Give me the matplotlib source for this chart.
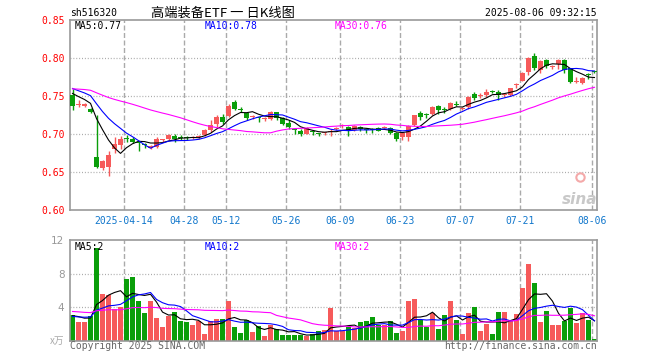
import numpy as np
import pandas as pd
import matplotlib
matplotlib.use("Agg")
import matplotlib.pyplot as plt

# ---- data (2025-03-31 .. 2025-08-06, 88 sessions) ----
opens = [0.751, 0.738, 0.737, 0.733, 0.670, 0.655, 0.656, 0.680, 0.6855, 0.695,
         0.6934, 0.689, 0.686, 0.681, 0.6825, 0.6915, 0.6934, 0.6974, 0.6958, 0.6953,
         0.6945, 0.6955, 0.6987, 0.7053, 0.7128, 0.7228, 0.7241, 0.7425, 0.7328, 0.727,
         0.722, 0.7212, 0.720, 0.7197, 0.7286, 0.7207, 0.7149, 0.7068, 0.7044, 0.700,
         0.7035, 0.7005, 0.7012, 0.702, 0.7065, 0.710, 0.7096, 0.7053, 0.7096, 0.7058,
         0.7058, 0.7075, 0.7085, 0.7075, 0.701, 0.6965, 0.6965, 0.7118, 0.728, 0.7255,
         0.7263, 0.7368, 0.7328, 0.7325, 0.7395, 0.733, 0.736, 0.7526, 0.7505, 0.7513,
         0.7562, 0.7557, 0.751, 0.7513, 0.7645, 0.770, 0.782, 0.8026, 0.7842, 0.7974,
         0.7888, 0.7921, 0.798, 0.7864, 0.769, 0.7667, 0.779, 0.782]
highs = [0.759, 0.745, 0.741, 0.734, 0.725, 0.666, 0.677, 0.696, 0.697, 0.699,
         0.6965, 0.690, 0.688, 0.6855, 0.6956, 0.6934, 0.700, 0.700, 0.6987, 0.698,
         0.697, 0.699, 0.7065, 0.7184, 0.725, 0.726, 0.739, 0.745, 0.736, 0.7294,
         0.725, 0.723, 0.723, 0.730, 0.7295, 0.7225, 0.7184, 0.708, 0.7062, 0.7088,
         0.7053, 0.7018, 0.703, 0.7062, 0.709, 0.7132, 0.7105, 0.712, 0.7105, 0.7075,
         0.7075, 0.7088, 0.711, 0.7088, 0.703, 0.703, 0.7118, 0.7255, 0.7307, 0.728,
         0.737, 0.7382, 0.735, 0.7418, 0.7428, 0.736, 0.750, 0.7557, 0.7535, 0.7588,
         0.7579, 0.7579, 0.7535, 0.7605, 0.7675, 0.781, 0.8009, 0.8062, 0.7974, 0.7983,
         0.7908, 0.7983, 0.7983, 0.7875, 0.7745, 0.7745, 0.7798, 0.7833]
lows = [0.732, 0.736, 0.735, 0.727, 0.655, 0.652, 0.645, 0.675, 0.680, 0.690,
        0.688, 0.677, 0.681, 0.680, 0.681, 0.690, 0.692, 0.690, 0.692, 0.692,
        0.693, 0.694, 0.698, 0.703, 0.7096, 0.7128, 0.7228, 0.7316, 0.729, 0.7184,
        0.720, 0.716, 0.717, 0.719, 0.719, 0.7115, 0.7062, 0.700, 0.6974, 0.6995,
        0.6987, 0.6974, 0.699, 0.6974, 0.705, 0.7075, 0.6974, 0.7035, 0.7044, 0.701,
        0.701, 0.7035, 0.7075, 0.700, 0.6912, 0.692, 0.6912, 0.711, 0.7184, 0.7205,
        0.7255, 0.7263, 0.728, 0.732, 0.7365, 0.7316, 0.7325, 0.7447, 0.747, 0.749,
        0.7535, 0.7447, 0.749, 0.7505, 0.760, 0.7695, 0.7776, 0.7842, 0.7798, 0.787,
        0.785, 0.7851, 0.7798, 0.767, 0.7665, 0.766, 0.772, 0.780]
closes = [0.737, 0.740, 0.739, 0.7295, 0.656, 0.664, 0.672, 0.687, 0.6934, 0.6935,
          0.690, 0.688, 0.6852, 0.684, 0.6934, 0.6925, 0.6987, 0.693, 0.6952, 0.695,
          0.6955, 0.697, 0.7053, 0.7118, 0.7228, 0.7162, 0.7373, 0.733, 0.7322, 0.7215,
          0.7228, 0.7205, 0.7212, 0.7286, 0.7207, 0.7128, 0.7088, 0.7055, 0.700, 0.7075,
          0.7025, 0.6998, 0.7022, 0.7035, 0.7075, 0.711, 0.7044, 0.7105, 0.7062, 0.7052,
          0.7052, 0.7044, 0.709, 0.701, 0.6935, 0.7018, 0.7105, 0.725, 0.722, 0.7248,
          0.736, 0.7316, 0.7322, 0.7404, 0.7388, 0.7345, 0.7491, 0.747, 0.7515, 0.7557,
          0.7555, 0.7513, 0.752, 0.760, 0.7658, 0.7807, 0.7996, 0.7864, 0.7965, 0.7895,
          0.7898, 0.7974, 0.7842, 0.769, 0.7697, 0.7732, 0.7782, 0.7815]
volumes = [3.14, 2.26, 2.26, 2.98, 11.0, 5.56, 5.44, 3.85, 4.05, 7.35,
           7.63, 4.73, 3.30, 4.73, 2.74, 1.67, 2.98, 3.46, 2.34, 2.26,
           1.87, 2.34, 0.83, 2.34, 2.58, 2.66, 4.73, 1.67, 0.95, 2.46,
           1.07, 1.79, 0.60, 1.95, 1.39, 0.75, 0.75, 0.75, 0.68, 0.60,
           0.83, 1.15, 1.27, 3.93, 1.15, 1.15, 1.67, 1.55, 2.22, 2.34,
           2.82, 1.91, 1.91, 2.34, 0.95, 1.15, 4.73, 4.97, 2.46, 1.67,
           3.30, 1.39, 3.06, 4.73, 2.46, 0.83, 3.30, 4.01, 1.15, 1.99,
           0.83, 3.42, 3.42, 2.46, 3.18, 6.32, 9.14, 6.87, 2.22, 3.54,
           1.91, 1.91, 2.34, 3.93, 2.11, 3.30, 2.46, 0.20]

# sessions before the window, only needed so the moving averages start where the picture does
pre_close = [0.752, 0.755, 0.758, 0.756, 0.760, 0.763, 0.761, 0.758, 0.754, 0.757,
             0.760, 0.762, 0.759, 0.756, 0.753, 0.755, 0.758, 0.760, 0.772, 0.775,
             0.770, 0.768, 0.765, 0.763, 0.766, 0.761, 0.758, 0.755, 0.756]
pre_vol = [3.6, 4.1, 3.8, 4.5, 3.9, 3.2, 4.4, 3.7, 4.0, 3.5,
           4.2, 3.9, 3.3, 3.8, 4.6, 3.6, 3.9, 4.1, 3.4, 2.5,
           2.9, 2.6, 2.7, 2.9, 3.1, 2.8, 3.2, 2.9, 3.0]

date_ticks = [9, 19, 26, 36, 45, 55, 65, 75, 87]
date_labels = ["2025-04-14", "04-28", "05-12", "05-26", "06-09",
               "06-23", "07-07", "07-21", "08-06"]
price_ticks = [0.60, 0.65, 0.70, 0.75, 0.80, 0.85]
vol_ticks = [4, 8, 12]
price_ma_labels = ["MA5:0.77", "MA10:0.78", "MA30:0.76"]
vol_ma_labels = ["MA5:2", "MA10:2", "MA30:2"]

RED = "#f65a5a"
GREEN = "#0a9e0a"
GRID = "#aaaaaa"
FRAME = "#999999"
MONO = "DejaVu Sans Mono"
CJK = ["Noto Sans CJK SC", "DejaVu Sans"]
MA_COLORS = ["black", "blue", "magenta"]
MA_N = [5, 10, 30]

W, H = 660, 360
n = len(closes)
x = np.arange(n)


def ma(pre, vals, k):
    s = pd.Series(pre + vals).rolling(k).mean().to_numpy()
    return s[len(pre):]


def px(xp, yp):
    return xp / W, 1 - yp / H


fig = plt.figure(figsize=(6.6, 3.6), dpi=100)
fig.patch.set_facecolor("white")

# axes rectangles in pixels: left 70, right 597
axp = fig.add_axes([70 / W, 1 - 210 / H, 527 / W, 190 / H])
axv = fig.add_axes([70 / W, 1 - 341 / H, 527 / W, 101 / H])

for ax in (axp, axv):
    ax.set_xlim(-0.42, 87.42)
    for s in ax.spines.values():
        s.set_color(FRAME)
        s.set_linewidth(1.2)
    ax.tick_params(length=0)
    ax.vlines([t - 0.4 for t in date_ticks], 0, 1, transform=ax.get_xaxis_transform(),
              colors=GRID, linewidth=1, linestyles=(0, (3.6, 1.8)), zorder=0)

# ---- price panel ----
axp.set_ylim(0.60, 0.85)
for p in [0.65, 0.70, 0.75, 0.80]:
    axp.axhline(p, color=GRID, linewidth=0.9, linestyle=(0, (0.8, 1.5)), zorder=0)
axp.set_yticks(price_ticks)
axp.set_yticklabels(["%.2f" % p for p in price_ticks], color="red",
                    fontsize=7, family=MONO)
axp.tick_params(axis="y", pad=4)
axp.set_xticks([t - 0.4 for t in date_ticks])
axp.set_xticklabels(date_labels, color="#1177cc", fontsize=7, family=MONO)
axp.tick_params(axis="x", pad=4)

o = np.array(opens)
c = np.array(closes)
up = c >= o
cols = [RED if u else GREEN for u in up]
axp.vlines(x, lows, highs, colors=cols, linewidth=1, zorder=2)
body = np.maximum(np.abs(c - o), 0.0013)
axp.bar(x, body, bottom=np.minimum(o, c), width=0.72, color=cols, linewidth=0, zorder=3)

for k, col in zip(MA_N, MA_COLORS):
    axp.plot(x, ma(pre_close, closes, k), color=col, linewidth=0.8, zorder=4)

# ---- volume panel ----
axv.set_ylim(0, 12)
for v in [4, 8]:
    axv.axhline(v, color=GRID, linewidth=0.9, linestyle=(0, (0.8, 1.5)), zorder=0)
axv.set_yticks(vol_ticks)
axv.set_yticklabels([str(v) for v in vol_ticks], color="#999999", fontsize=7.5)
axv.tick_params(axis="y", pad=4)
axv.set_xticks([])
axv.bar(x, volumes, width=0.83, color=cols, linewidth=0, zorder=2)
for k, col in zip(MA_N, MA_COLORS):
    axv.plot(x, ma(pre_vol, volumes, k), color=col, linewidth=0.8, zorder=4)

# ---- texts ----
fig.text(*px(70, 13.5), "sh516320", fontsize=7, family=MONO, va="center", ha="left")
fig.text(*px(223, 13.5), "高端装备ETF 一 日K线图", fontsize=9.5, family=CJK,
         va="center", ha="center")
fig.text(*px(597, 13.5), "2025-08-06 09:32:15", fontsize=7, family=MONO,
         va="center", ha="right")

for xl, lab, col in zip([74.5, 204.5, 334.5], price_ma_labels, MA_COLORS):
    fig.text(*px(xl, 26), lab, fontsize=7, family=MONO, color=col, va="center")
for xl, lab, col in zip([74.5, 204.5, 334.5], vol_ma_labels, MA_COLORS):
    fig.text(*px(xl, 246.5), lab, fontsize=7, family=MONO, color=col, va="center")

fig.text(*px(64, 341), "x万", fontsize=7, family=CJK, color="#aaaaaa",
         va="center", ha="right", style="italic")
fig.text(*px(70, 346), "Copyright 2025 SINA.COM", fontsize=7, family=MONO,
         color="#666666", va="center", ha="left")
fig.text(*px(597, 346), "http://finance.sina.com.cn", fontsize=7, family=MONO,
         color="#666666", va="center", ha="right")

# sina watermark
fig.text(*px(580, 199), "sina", fontsize=11, fontweight="bold", style="italic",
         color="#c8c8c8", va="center", ha="center")
axp.plot([84.6], [0.643], marker="o", markersize=6, markerfacecolor="none",
         markeredgecolor="#f4a9a9", markeredgewidth=1.5, zorder=1)

fig.savefig("out.png", dpi=100, facecolor="white")
